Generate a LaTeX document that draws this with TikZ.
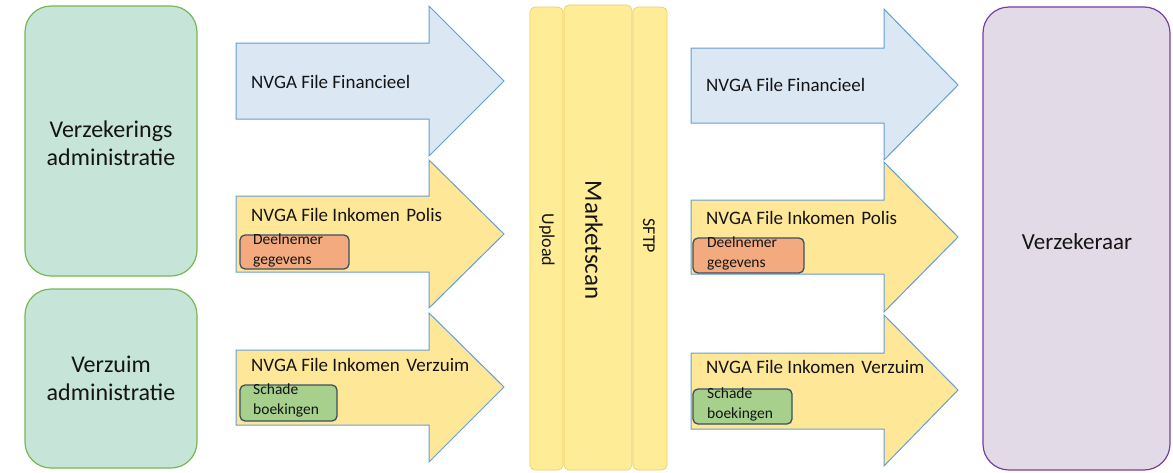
\documentclass[tikz,border=0pt]{standalone}
\usepackage{fontspec}
\setmainfont{Carlito}
\definecolor{mintfill}{RGB}{198,228,216}
\definecolor{mintline}{RGB}{122,182,84}
\definecolor{lavfill}{RGB}{226,219,231}
\definecolor{lavline}{RGB}{120,60,165}
\definecolor{bluefill}{RGB}{220,231,244}
\definecolor{blueline}{RGB}{100,158,212}
\definecolor{yelfill}{RGB}{255,231,152}
\definecolor{barfill}{RGB}{255,236,150}
\definecolor{barline}{RGB}{232,205,100}
\definecolor{orfill}{RGB}{242,170,126}
\definecolor{grfill}{RGB}{166,208,140}
\definecolor{tagline}{RGB}{60,80,100}
\definecolor{txt}{RGB}{20,20,20}
\tikzset{
  bigbox/.style={rounded corners=26pt, line width=1.2pt},
  srcbox/.style={bigbox, fill=mintfill, draw=mintline},
  dstbox/.style={bigbox, fill=lavfill, draw=lavline},
  bluearrow/.style={fill=bluefill, draw=blueline, line width=1pt},
  yelarrow/.style={fill=yelfill, draw=blueline, line width=1pt},
  bar/.style={fill=barfill, draw=barline, line width=0.6pt, rounded corners=5pt},
  tagbox/.style={draw=tagline, line width=1.3pt, rounded corners=5pt},
  arrowtext/.style={anchor=west, font=\fontsize{19}{22}\selectfont, text=txt, inner sep=0pt},
  tagtext/.style={anchor=north west, align=left, font=\fontsize{15.5}{19.5}\selectfont, text=txt, inner sep=0pt},
  bigtext/.style={align=center, font=\fontsize{24}{28}\selectfont, text=txt},
}
\begin{document}
\begin{tikzpicture}[x=1pt,y=-1pt]
\useasboundingbox (0,0) rectangle (1173,472);
% source boxes
\draw[srcbox] (25,6) rectangle (197,276);
\node[bigtext] (verzadm) at (111,143) {Verzekerings\\administratie};
\draw[srcbox] (25,289) rectangle (197,468);
\node[bigtext] (verzuimadm) at (111,378) {Verzuim\\administratie};
% destination box
\draw[dstbox] (983,7) rectangle (1170,470);
\node[bigtext, font=\fontsize{23}{27}\selectfont] (verzekeraar) at (1077,242) {Verzekeraar};
% center bars
\draw[bar] (530,7) rectangle (563,470);
\draw[bar] (564,5) rectangle (632,470);
\draw[bar] (633,7) rectangle (667,470);
\node[rotate=-90, font=\fontsize{18}{20}\selectfont, text=txt] (upload) at (547,240) {Upload};
\node[rotate=-90, font=\fontsize{25}{28}\selectfont, text=txt] (marketscan) at (594,240) {Marketscan};
\node[rotate=-90, font=\fontsize{18}{20}\selectfont, text=txt] (sftp) at (649,236) {SFTP};
% left arrows
\draw[bluearrow] (236,43) -- (429,43) -- (429,6) -- (504,81) -- (429,156) -- (429,119) -- (236,119) -- cycle;
\draw[yelarrow] (236,196) -- (429,196) -- (429,160) -- (504,234) -- (429,308) -- (429,272) -- (236,272) -- cycle;
\draw[yelarrow] (236,350) -- (429,350) -- (429,313) -- (504,387) -- (429,462) -- (429,425) -- (236,425) -- cycle;
\node[arrowtext] (lfin) at (251,82) {NVGA File Financieel};
\node[arrowtext] (lpol) at (251,215) {NVGA File Inkomen\hspace{0.12em} Polis};
\node[arrowtext] (lverz) at (251,365) {NVGA File Inkomen\hspace{0.12em} Verzuim};
\draw[tagbox, fill=orfill] (240,235) rectangle (349,269);
\node[tagtext] (ldeel) at (253,234) {Deelnemer\\gegevens};
\draw[tagbox, fill=grfill] (240,385) rectangle (337,421);
\node[tagtext] (lschade) at (253,384) {Schade\\boekingen};
% right arrows
\draw[bluearrow] (691,48) -- (884,48) -- (884,9) -- (958,85) -- (884,160) -- (884,123) -- (691,123) -- cycle;
\draw[yelarrow] (691,200) -- (884,200) -- (884,162) -- (958,237) -- (884,312) -- (884,274) -- (691,274) -- cycle;
\draw[yelarrow] (691,353) -- (884,353) -- (884,315) -- (958,390) -- (884,466) -- (884,429) -- (691,429) -- cycle;
\node[arrowtext] (rfin) at (706,85) {NVGA File Financieel};
\node[arrowtext] (rpol) at (706,218) {NVGA File Inkomen\hspace{0.12em} Polis};
\node[arrowtext] (rverz) at (706,367) {NVGA File Inkomen\hspace{0.12em} Verzuim};
\draw[tagbox, fill=orfill] (693,238) rectangle (804,273);
\node[tagtext] (rdeel) at (707,237) {Deelnemer\\gegevens};
\draw[tagbox, fill=grfill] (693,389) rectangle (792,424);
\node[tagtext] (rschade) at (707,388) {Schade\\boekingen};
\end{tikzpicture}
\end{document}
